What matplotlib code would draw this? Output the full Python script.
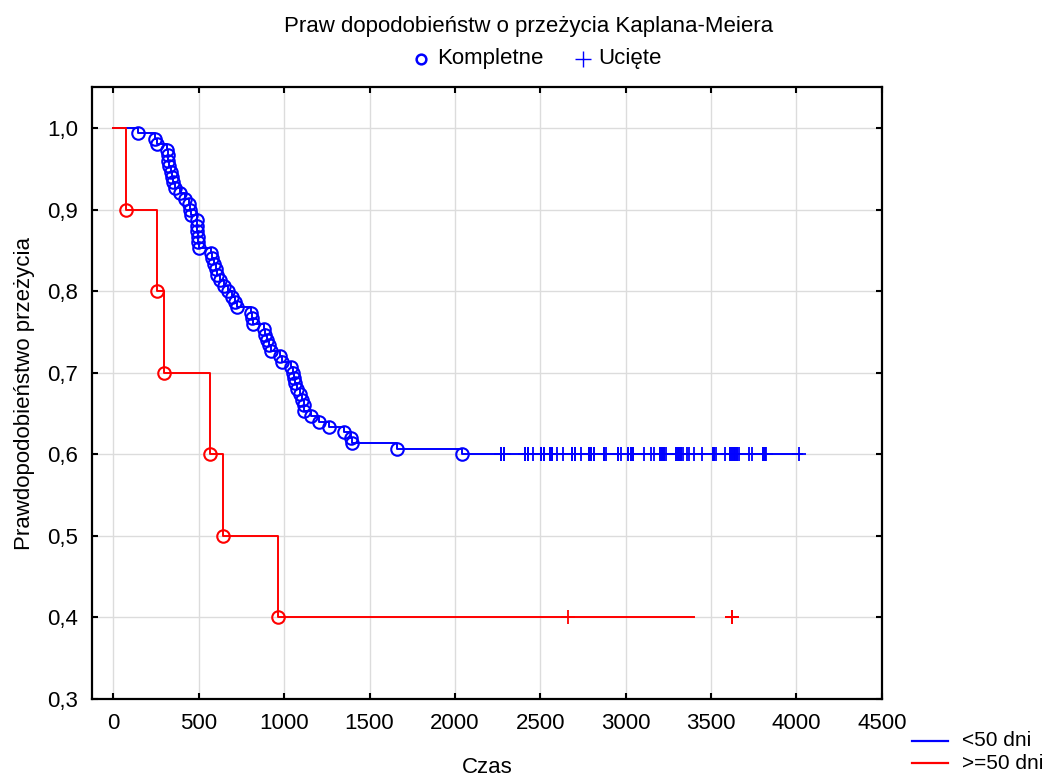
import numpy as np
import matplotlib
matplotlib.use("Agg")
import matplotlib.pyplot as plt
from matplotlib.lines import Line2D

plt.rcParams['font.family'] = ['Liberation Sans', 'DejaVu Sans']

# group "<50 dni": event (complete) times and censored times
blue_events = [147, 245, 255,
               312, 318, 322, 328, 335, 342, 350, 362,
               392, 422, 440, 451, 455,
               488, 490, 492, 494, 497, 500,
               572, 580, 588, 598, 608, 622, 645, 670, 695, 712, 726,
               805, 812, 815,
               883, 890, 898, 910, 925,
               978, 988,
               1040, 1050, 1058, 1066, 1078, 1090, 1105, 1115,
               1118, 1160, 1205, 1265, 1350, 1390, 1400, 1663, 2040]
blue_censored = [2270, 2290, 2410, 2428, 2455, 2505, 2520, 2555, 2570, 2598,
                 2634, 2683, 2702, 2741, 2785, 2798, 2814, 2873, 2882, 2955,
                 2975, 3014, 3029, 3043, 3108, 3151, 3167, 3202, 3212, 3222,
                 3235, 3294, 3304, 3314, 3324, 3334, 3357, 3373, 3402, 3447,
                 3510, 3520, 3529, 3579, 3614, 3624, 3634, 3643, 3653, 3663,
                 3720, 3741, 3804, 3814, 3824, 4016,
                 2270, 2290, 2410, 2428, 2505, 2520, 2555, 2570, 2683, 2702,
                 2785, 2798, 2814, 2873, 2955, 3014, 3029, 3043, 3202, 3212,
                 3222, 3294, 3304, 3314, 3324, 3510, 3520, 3614, 3624, 3634,
                 3643, 3653, 3804, 3814]
blue_end = 4033

# group ">=50 dni"
red_events = [75, 258, 295, 565, 642, 965]
red_censored = [2661, 3624, 3624, 3624]
red_end = 3398


def kaplan_meier(events, censored):
    n = len(events) + len(censored)
    times = sorted(set(events))
    s = 1.0
    surv = []
    for t in times:
        d = events.count(t)
        at_risk = n - sum(e < t for e in events) - sum(c < t for c in censored)
        s *= 1 - d / at_risk
        surv.append(s)
    return times, surv


def s_at(times, surv, t):
    val = 1.0
    for ti, si in zip(times, surv):
        if ti <= t:
            val = si
    return val


fs = 16
fig = plt.figure(figsize=(10.46, 7.79), dpi=100)
ax = fig.add_axes([0.088, 0.103, 0.755, 0.785])

for events, censored, end, col in [(blue_events, blue_censored, blue_end, 'blue'),
                                   (red_events, red_censored, red_end, 'red')]:
    times, surv = kaplan_meier(events, censored)
    xs = [0] + times + [end]
    ys = [1.0] + surv + [surv[-1]]
    ax.plot(xs, ys, drawstyle='steps-post', color=col, lw=1.4, zorder=3)
    ax.plot(times, surv, 'o', mfc='none', mec=col, ms=9, mew=1.5, zorder=4)
    cy = [s_at(times, surv, c) for c in censored]
    ax.plot(censored, cy, '+', color=col, ms=10, mew=1.3, zorder=4)

ax.set_xlim(-125, 4500)
ax.set_ylim(0.3, 1.05)
ax.set_xticks(np.arange(0, 4501, 500))
ax.set_yticks(np.arange(0.3, 1.01, 0.1))
ax.set_yticklabels([f"{v:.1f}".replace('.', ',') for v in np.arange(0.3, 1.01, 0.1)])
ax.grid(True, color='#dcdcdc', lw=1)
ax.set_axisbelow(True)
ax.tick_params(direction='in', length=4, width=1.5, top=True, right=True,
               labelsize=fs, pad=10, colors='black')
for sp in ax.spines.values():
    sp.set_linewidth(1.6)

ax.set_xlabel('Czas', fontsize=fs, labelpad=17)
ax.set_ylabel('Prawdopodobieństwo przeżycia', fontsize=fs, labelpad=9)

fig.text(0.505, 0.966, 'Praw dopodobieństw o przeżycia Kaplana-Meiera',
         ha='center', va='center', fontsize=fs)

# top legend: marker types
ly = 0.9245
fig.add_artist(Line2D([0.4025], [ly], ls='none', marker='o', mfc='none', mec='blue',
                      ms=7, mew=1.8, transform=fig.transFigure))
fig.text(0.4178, ly, 'Kompletne', ha='left', va='center', fontsize=fs)
fig.add_artist(Line2D([0.5574], [ly], ls='none', marker='+', color='blue',
                      ms=11, mew=1.0, transform=fig.transFigure))
fig.text(0.5717, ly, 'Ucięte', ha='left', va='center', fontsize=fs)

# bottom legend: groups
for yy, col, lab in [(0.0488, 'blue', '<50 dni'), (0.0205, 'red', '>=50 dni')]:
    fig.add_artist(Line2D([0.872, 0.906], [yy, yy], color=col, lw=1.6,
                          transform=fig.transFigure))
    fig.text(0.9197, yy, lab, ha='left', va='center', fontsize=15)

fig.savefig('out.png', dpi=100)
